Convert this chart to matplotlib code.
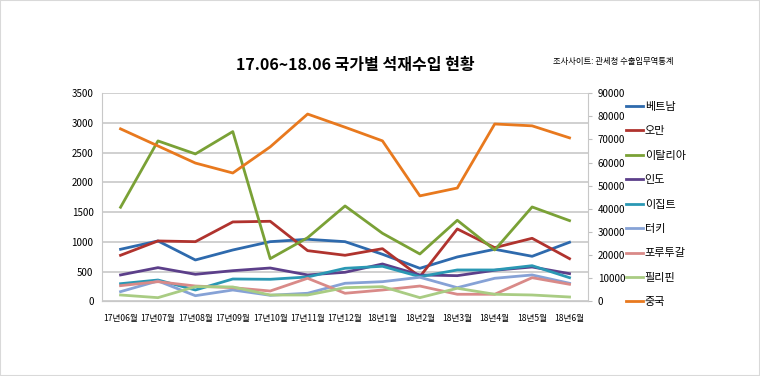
import matplotlib
matplotlib.use("Agg")
import matplotlib.pyplot as plt
from matplotlib.patches import Rectangle

plt.rcParams['font.family'] = ['Noto Sans CJK KR', 'DejaVu Sans']

months = ['17년06월', '17년07월', '17년08월', '17년09월', '17년10월', '17년11월', '17년12월',
          '18년1월', '18년2월', '18년3월', '18년4월', '18년5월', '18년6월']

vietnam = [875, 1015, 695, 863, 1003, 1043, 1003, 791, 555, 746, 875, 757, 993]
oman = [774, 1015, 1003, 1335, 1346, 852, 774, 885, 414, 1217, 902, 1060, 717]
italy = [1582, 2698, 2479, 2855, 717, 1070, 1604, 1144, 796, 1363, 863, 1587, 1357]
india = [443, 566, 454, 515, 560, 443, 488, 628, 443, 431, 522, 577, 465]
egypt = [296, 358, 190, 375, 370, 409, 555, 589, 414, 527, 527, 599, 397]
turkey = [162, 342, 94, 190, 101, 135, 303, 330, 404, 229, 387, 443, 303]
portugal = [263, 330, 257, 229, 173, 387, 135, 190, 257, 118, 118, 397, 286]
philippines = [106, 61, 246, 241, 106, 106, 229, 246, 61, 219, 118, 106, 72]
# 중국 is on the secondary (right) axis
china = [74600, 67200, 59800, 55500, 66800, 81000, 75300, 69400, 45600, 49000, 76700, 75900, 70700]

left_series = [
    ('베트남', vietnam, '#2e6aad'),
    ('오만', oman, '#b0332e'),
    ('이탈리아', italy, '#7aa136'),
    ('인도', india, '#5c3f8a'),
    ('이집트', egypt, '#2a98b4'),
    ('터키', turkey, '#86a2d6'),
    ('포루투갈', portugal, '#d98a88'),
    ('필리핀', philippines, '#a9cc83'),
]

fig = plt.figure(figsize=(7.6, 3.76), dpi=100)
ax = fig.add_axes([0.134, 0.1987, 0.64, 0.5533])
ax2 = ax.twinx()

x = list(range(len(months)))
handles = []
for name, vals, col in left_series:
    h, = ax.plot(x, vals, color=col, lw=2, label=name)
    handles.append(h)
h, = ax2.plot(x, china, color='#e8791e', lw=2, label='중국')
handles.append(h)

ax.set_xlim(-0.5, len(months) - 0.5)
ax.set_ylim(0, 3500)
ax.set_yticks(range(0, 3501, 500))
ax2.set_ylim(0, 90000)
ax2.set_yticks(range(0, 90001, 10000))

ax.set_xticks(x)
ax.set_xticklabels(months, fontsize=6.2)
ax.tick_params(axis='y', labelsize=7, length=0, pad=6)
ax2.tick_params(axis='y', labelsize=7, length=3, color='#bfbfbf', pad=4)
ax.tick_params(axis='x', length=0, pad=9)

ax.grid(axis='y', color='#c8c8c8', lw=1.2)
ax.set_axisbelow(True)
for a in (ax, ax2):
    a.spines['top'].set_visible(False)
    for s in ('left', 'right', 'bottom'):
        a.spines[s].set_color('#c8c8c8')
ax2.spines['left'].set_visible(False)
ax.spines['right'].set_visible(False)

fig.text(0.467, 0.826, '17.06~18.06 국가별 석재수입 현황', ha='center', va='center',
         fontsize=11.5, fontweight='bold')
fig.text(0.807, 0.836, '조사사이트: 관세청 수출입무역통계', ha='center', va='center', fontsize=6)

fig.legend(handles=handles, loc='upper left', bbox_to_anchor=(0.811, 0.756),
           frameon=False, fontsize=8, handlelength=1.5, handletextpad=0.15,
           labelspacing=1.3)

fig.patches.append(Rectangle((0, 0), 1, 1, transform=fig.transFigure, fill=False,
                             edgecolor='#d9d9d9', lw=1.5))

fig.savefig('out.png', dpi=100)
